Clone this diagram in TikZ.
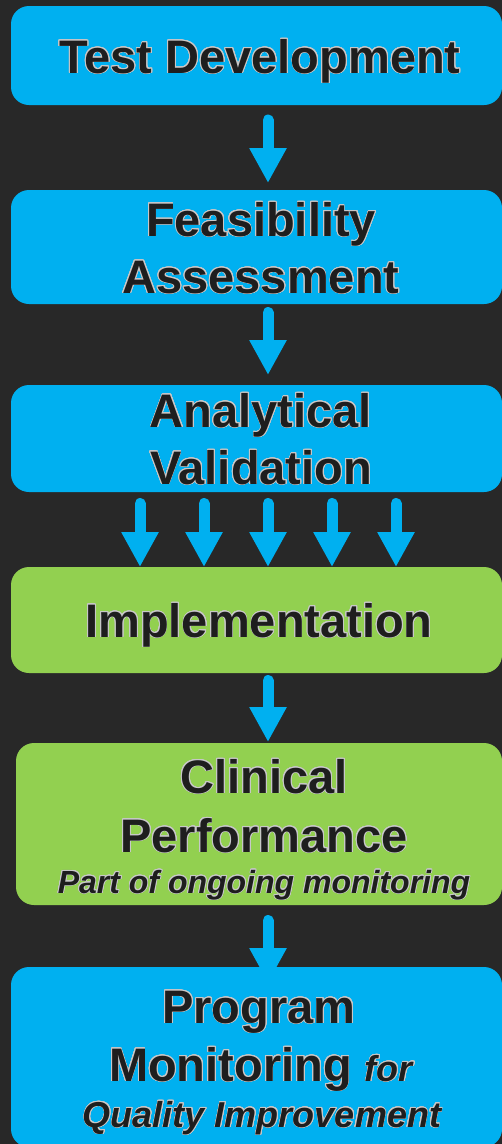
\documentclass[tikz,border=0pt]{standalone}
\usepackage{fontspec}
\setmainfont{Liberation Sans}
\usepackage{contour}
\usetikzlibrary{arrows.meta}
\contourlength{0.8pt}
\contournumber{24}
\definecolor{bgc}{HTML}{282828}
\definecolor{boxblue}{HTML}{00B0F0}
\definecolor{boxgreen}{HTML}{92D050}
\definecolor{txt}{HTML}{1E1E1E}
\definecolor{outl}{HTML}{C8C8C8}
\pgfdeclarelayer{bgl}
\pgfdeclarelayer{arrl}
\pgfsetlayers{bgl,arrl,main}
\newcommand{\ctext}[1]{\contour{outl}{#1}}
\begin{document}
\begin{tikzpicture}[x=1pt,y=-1pt,
  boxbase/.style={rectangle, rounded corners=18pt, inner sep=0pt, outer sep=0pt, anchor=north west},
  bluebox/.style={boxbase, fill=boxblue},
  greenbox/.style={boxbase, fill=boxgreen},
  bigtext/.style={anchor=base, inner sep=0pt, text=txt, font=\fontsize{47}{57}\selectfont\bfseries},
  smalltext/.style={anchor=base, inner sep=0pt, text=txt, font=\fontsize{32}{38}\selectfont\bfseries\itshape},
  midtext/.style={anchor=base, inner sep=0pt, text=txt, font=\fontsize{36}{42}\selectfont\bfseries\itshape},
  flowarrow/.style={draw=boxblue, line width=11pt, line cap=round, -{Triangle[width=35pt,length=35pt]}}
]
\begin{pgfonlayer}{bgl}
\fill[bgc] (0,0) rectangle (502,1144);
\end{pgfonlayer}
\useasboundingbox (0,0) rectangle (502,1144);

% boxes
\node[bluebox, minimum width=491pt, minimum height=99pt] (b1) at (11,6) {};
\node[bluebox, minimum width=491pt, minimum height=114pt] (b2) at (11,190) {};
\node[bluebox, minimum width=491pt, minimum height=107pt] (b3) at (11,385) {};
\node[greenbox, minimum width=491pt, minimum height=106pt] (b4) at (11,567) {};
\node[greenbox, minimum width=486pt, minimum height=162pt] (b5) at (16,743) {};
\node[bluebox, minimum width=491pt, minimum height=180pt] (b6) at (11,967) {};

% texts
\node[bigtext] (t1) at (260,73) {\ctext{Test Development}};
\node[bigtext] (t2a) at (261,236) {\ctext{Feasibility}};
\node[bigtext] (t2b) at (261,293) {\ctext{Assessment}};
\node[bigtext] (t3a) at (261,427) {\ctext{Analytical}};
\node[bigtext] (t3b) at (261,484) {\ctext{Validation}};
\node[bigtext] (t4) at (259,637) {\ctext{Implementation}};
\node[bigtext] (t5a) at (264,793) {\ctext{Clinical}};
\node[bigtext] (t5b) at (264,852) {\ctext{Performance}};
\node[smalltext] (t5c) at (264,893) {\ctext{Part of ongoing monitoring}};
\node[bigtext] (t6a) at (259,1023) {\ctext{Program}};
\node[bigtext] (t6b) at (261,1081) {\ctext{Monitoring \fontsize{36}{42}\selectfont\itshape for}};
\node[midtext] (t6c) at (262,1127) {\ctext{Quality Improvement}};

% arrows
\coordinate (col) at (268,0);
\begin{pgfonlayer}{arrl}
\draw[flowarrow, shorten <=15pt, shorten >=7pt] (b1.south -| col) -- (b2.north -| col);
\draw[flowarrow, shorten <=8.5pt, shorten >=10pt] (b2.south -| col) -- (b3.north -| col);
\foreach \dx in {-128,-64,0,64,128}{
  \draw[flowarrow, shorten <=11.5pt, shorten >=0pt] ([xshift=\dx pt]b3.south -| col) -- ([xshift=\dx pt]b4.north -| col);
}
\draw[flowarrow, shorten <=7.5pt, shorten >=1pt] (b4.south -| col) -- (b5.north -| col);
\draw[flowarrow, shorten <=15.5pt, shorten >=-16pt] (b5.south -| col) -- (b6.north -| col);
\end{pgfonlayer}
\end{tikzpicture}
\end{document}
